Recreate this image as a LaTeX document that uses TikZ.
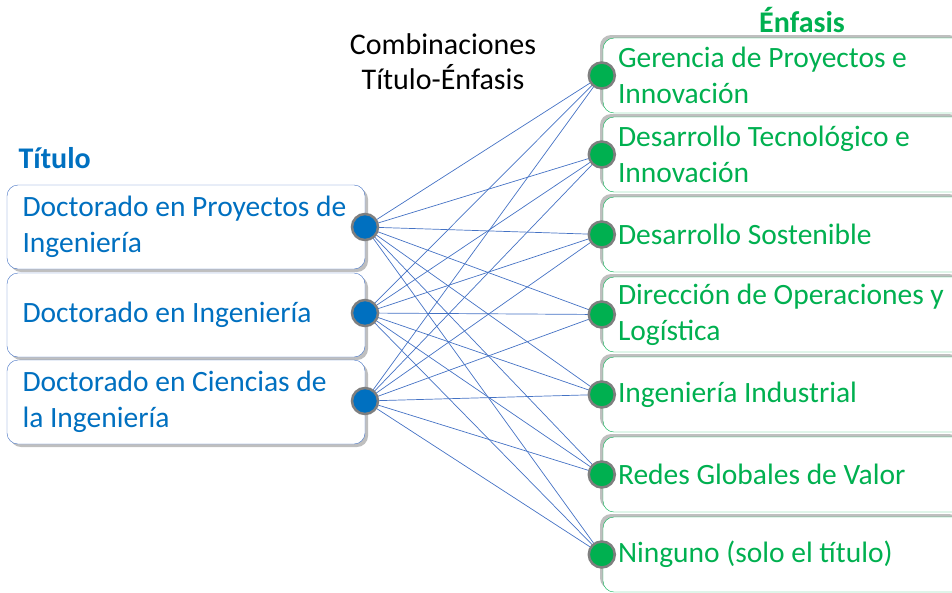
\documentclass[tikz,border=0pt]{standalone}
\usepackage{fontspec}
\setmainfont{Carlito}
\usetikzlibrary{shadows,calc}
\definecolor{titblue}{HTML}{0070C0}
\definecolor{enfgreen}{HTML}{00B050}
\definecolor{linkblue}{HTML}{4472C4}
\definecolor{dotgray}{HTML}{7F7F7F}

\begin{document}
\begin{tikzpicture}[x=1pt,y=-1pt,
    txt/.style={font=\fontsize{29.5}{36}\selectfont},
    hdr/.style={font=\fontsize{30}{36}\selectfont\bfseries},
    titbox/.style={txt, draw=linkblue, rounded corners=11pt, fill=white,
      minimum width=358pt, minimum height=84pt, text width=327pt, align=flush left,
      text=titblue, drop shadow={shadow xshift=3pt, shadow yshift=-3pt, opacity=0.5}},
    enfbox/.style={txt, draw=enfgreen, rounded corners=11pt, fill=white,
      minimum width=360pt, minimum height=75pt, text width=330pt, align=flush left,
      text=enfgreen, drop shadow={shadow xshift=-3pt, shadow yshift=3pt, opacity=0.5}},
    tdot/.style={circle, draw=dotgray, line width=2.5pt, fill=titblue, minimum size=26pt, inner sep=0pt},
    edot/.style={tdot, fill=enfgreen},
    link/.style={draw=linkblue, line width=0.7pt}]
  \useasboundingbox (0,0) rectangle (952,592);

  % headers
  \node[hdr, text=titblue, anchor=west] (Htit) at (15,158) {Título};
  \node[hdr, text=enfgreen] (Henf) at (802,20) {Énfasis};
  \node[align=center, font=\fontsize{30}{35}\selectfont] (Hcomb) at (443,62) {Combinaciones\\Título-Énfasis};

  % titulos
  \node[titbox] (T1) at (186,227) {Doctorado en Proyectos de Ingeniería};
  \node[titbox] (T2) at (186,315) {Doctorado en Ingeniería};
  \node[titbox] (T3) at (186,402) {Doctorado en Ciencias de la Ingeniería};

  % enfasis
  \node[enfbox] (E1) at (783,75.5) {Gerencia de Proyectos e Innovación};
  \node[enfbox] (E2) at (783,154.5) {Desarrollo Tecnológico e Innovación};
  \node[enfbox] (E3) at (783,234.5) {Desarrollo Sostenible};
  \node[enfbox] (E4) at (783,314.5) {Dirección de Operaciones y Logística};
  \node[enfbox] (E5) at (783,394.5) {Ingeniería Industrial};
  \node[enfbox] (E6) at (783,474.5) {Redes Globales de Valor};
  \node[enfbox] (E7) at (783,554.5) {Ninguno (solo el título)};

  % points
  \coordinate (pT1) at (365,227);
  \coordinate (pT2) at (365,313);
  \coordinate (pT3) at (365,401);
  \foreach \e in {1,...,7}
    \coordinate (pE\e) at ($(E\e.west)+(-1,0)$);

  % combinaciones
  \foreach \t in {1,2,3}
    \foreach \e in {1,...,7}
      \draw[link] (pT\t) -- (pE\e);

  \foreach \t in {1,2,3}
    \node[tdot] (dT\t) at (pT\t) {};
  \foreach \e in {1,...,7}
    \node[edot] (dE\e) at (pE\e) {};
\end{tikzpicture}
\end{document}
